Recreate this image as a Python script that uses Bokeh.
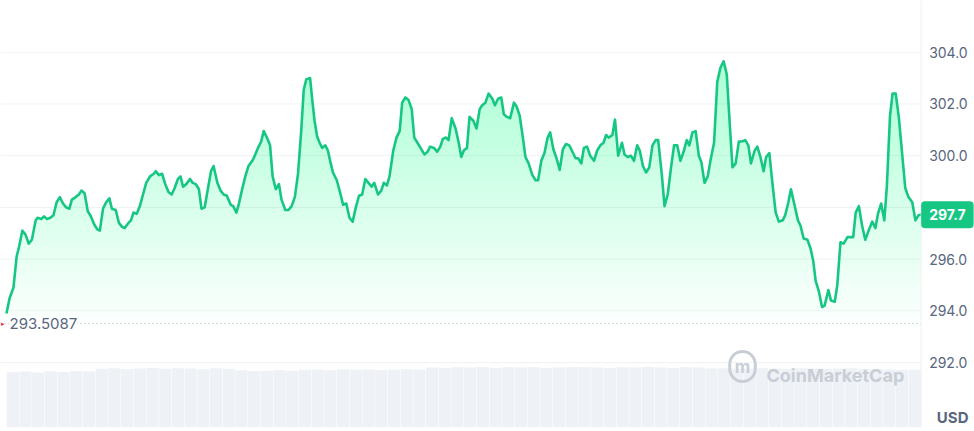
from bokeh.plotting import figure
from bokeh.models import Range1d, Span, Label
from bokeh.embed import file_html
from bokeh.resources import INLINE
from bokeh.core.properties import value
import numpy as np

# ---- data (minutes since start of the 24h window, USD price) ----
minutes = [
    0, 5, 11, 16, 20, 25, 30, 35, 40, 46, 49, 55, 59, 64, 69, 74, 79, 84, 89, 94,
    99, 103, 109, 114, 118, 123, 128, 133, 138, 143, 147, 152, 157, 162, 166, 172, 177, 182, 186, 192,
    196, 200, 205, 210, 215, 220, 226, 232,
    235, 240, 245, 250, 255, 260, 264, 270, 274, 278, 283, 289, 293, 298, 303, 307, 312, 317, 322, 326,
    332, 337, 342, 347, 353, 357, 362, 366, 371, 376, 381, 387, 390, 396, 401, 405, 410, 415, 419, 424,
    429, 433, 439, 444, 449, 454, 459, 464, 468,
    472, 478, 481, 485, 489, 493, 497, 502, 506, 510, 514, 520, 525, 530, 535, 540, 545, 550, 555, 560,
    565, 570, 575, 579, 585, 590, 594, 599, 603, 609, 614, 619, 623, 628, 633, 638, 642, 647, 653, 658,
    663, 667, 673, 678, 683, 687, 692, 696, 701,
    707, 712, 716, 720, 725, 729, 735, 740, 745, 749, 754, 759, 765, 769, 774, 779, 783, 788, 793, 799,
    803, 808, 813, 817, 822, 828, 833, 837, 842, 847, 852, 856, 861, 866, 871, 876, 881, 886, 891, 896,
    900, 905, 909, 914, 919, 925, 930, 935, 940,
    944, 948, 954, 958, 963, 969, 973, 978, 983, 988, 993, 997, 1002, 1007, 1012, 1017, 1022, 1026, 1032, 1036,
    1041, 1046, 1051, 1056, 1061, 1066, 1071, 1075, 1080, 1085, 1090, 1094, 1099, 1104, 1109, 1114, 1119, 1124, 1129, 1134,
    1139, 1143, 1148, 1153, 1158, 1163, 1168, 1172, 1178,
    1182, 1187, 1192, 1196, 1201, 1206, 1211, 1216, 1222, 1226, 1231, 1235, 1241, 1246, 1250, 1255, 1261, 1266, 1270, 1274,
    1279, 1284, 1288, 1294, 1298, 1304, 1308, 1313, 1318, 1324, 1329, 1333, 1337, 1342, 1347, 1352, 1358, 1363, 1368, 1372,
    1377, 1382, 1386, 1391, 1395, 1400, 1405, 1410, 1415, 1420, 1426, 1431, 1436, 1440,
]

prices = [
    293.9, 294.5, 294.9, 296.1, 296.5, 297.1, 296.95, 296.6, 296.75, 297.5,
    297.6, 297.55, 297.65, 297.55, 297.6, 297.7, 298.2, 298.4, 298.15, 298.0,
    297.95, 298.3, 298.4, 298.5, 298.65, 298.55, 297.85, 297.65, 297.35, 297.15,
    297.1, 297.95, 298.2, 298.35, 297.95, 297.9, 297.4, 297.25, 297.2, 297.4,
    297.5, 297.8, 297.75, 298.05, 298.5, 298.95, 299.2, 299.3,
    299.4, 299.25, 299.3, 298.9, 298.6, 298.5, 298.7, 299.1, 299.2, 298.8,
    298.9, 299.1, 298.95, 298.9, 298.7, 297.95, 298.0, 298.7, 299.4, 299.6,
    298.95, 298.65, 298.5, 298.45, 298.1, 298.05, 297.8, 298.15, 298.7, 299.2,
    299.6, 299.8, 299.95, 300.3, 300.55, 300.95, 300.7, 300.4, 299.2, 298.7,
    298.9, 298.3, 297.9, 297.9, 298.05, 298.4, 299.3, 300.95, 302.55,
    302.95, 303.0, 302.25, 301.35, 300.75, 300.5, 300.3, 300.4, 300.2, 299.75,
    299.35, 299.05, 298.6, 298.1, 298.15, 297.6, 297.45, 298.0, 298.45, 298.5,
    299.1, 298.95, 298.8, 298.95, 298.5, 298.65, 298.95, 298.85, 299.2, 300.2,
    300.7, 300.95, 302.05, 302.25, 302.15, 301.8, 300.7, 300.5, 300.25, 300.05,
    300.15, 300.35, 300.3, 300.15, 300.35, 300.65, 300.7, 300.6, 301.45,
    301.05, 300.5, 299.95, 300.2, 300.3, 301.5, 301.35, 301.05, 301.8, 301.95,
    302.05, 302.4, 302.2, 301.95, 302.2, 302.25, 301.6, 301.5, 301.45, 302.05,
    301.9, 301.55, 300.7, 299.95, 299.7, 299.25, 299.05, 299.05, 299.8, 300.1,
    300.7, 300.9, 300.25, 299.9, 299.45, 300.25, 300.45, 300.4, 300.15, 299.9,
    299.9, 299.7, 300.3, 300.35, 300.0, 299.8, 300.2, 300.4, 300.5,
    300.8, 300.7, 300.8, 301.4, 300.0, 300.5, 300.05, 299.95, 300.0, 299.8,
    300.4, 300.2, 299.6, 299.35, 299.55, 300.4, 300.6, 300.6, 299.2, 298.05,
    298.5, 299.5, 300.4, 300.4, 299.8, 300.15, 300.6, 300.4, 300.9, 300.95,
    300.0, 299.75, 298.95, 299.2, 299.9, 300.5, 302.85, 303.4, 303.65, 303.15,
    301.1, 299.55, 299.7, 300.55, 300.55, 300.6, 300.4, 299.7, 300.2,
    300.35, 299.95, 299.4, 299.95, 300.1, 298.9, 297.8, 297.45, 297.5, 297.7,
    298.2, 298.7, 298.05, 297.5, 297.3, 296.8, 296.75, 296.4, 295.95, 295.15,
    294.75, 294.15, 294.2, 294.8, 294.4, 294.35, 295.0, 296.65, 296.6, 296.85,
    296.85, 296.85, 297.8, 298.05, 297.3, 296.75, 297.15, 297.45, 297.2, 297.75,
    298.15, 297.5, 298.8, 301.55, 302.4, 302.4, 301.45, 300.1, 298.75, 298.4,
    298.2, 297.5, 297.7, 297.72,
]

open_price = 293.5087
y_ticks = [292, 294, 296, 298, 300, 302, 304]
tick_labels = [f"{t:.1f}" for t in y_ticks]

# volume per 20-minute slot (arbitrary units)
volumes = [
    1.80, 1.82, 1.79, 1.83, 1.81, 1.84, 1.82,
    1.91, 1.93, 1.90, 1.92, 1.94, 1.91, 1.93, 1.92, 1.90, 1.93, 1.91,
    1.86, 1.84, 1.85, 1.87, 1.85,
    1.88, 1.89, 1.87, 1.90, 1.88, 1.89, 1.87, 1.88, 1.90, 1.89,
    1.95, 1.94, 1.96, 1.95, 1.97, 1.94, 1.96, 1.95, 1.96, 1.94,
    1.95, 1.97, 1.96, 1.95, 1.94, 1.96, 1.95, 1.97, 1.95, 1.94, 1.96, 1.95,
    1.92, 1.93, 1.91, 1.92, 1.93, 1.92, 1.91, 1.93, 1.92, 1.91,
    1.92, 1.93, 1.91, 1.90, 1.89, 1.88, 1.88,
]
vol_slot = 20
vol_minutes = [vol_slot / 2 + vol_slot * i for i in range(len(volumes))]

assert len(minutes) == len(prices)

GREEN = "#16c784"
GRID = "#eff2f5"
TEXT = "#58667e"
FONT = "Inter"

X0, X1 = -9.4, 1524.0
Y0, Y1 = 289.49, 306.0
t_end = minutes[-1]

p = figure(width=974, height=431, output_backend="svg", toolbar_location=None,
           x_range=Range1d(X0, X1), y_range=Range1d(Y0, Y1),
           min_border_left=0, min_border_top=0, min_border_bottom=4, min_border_right=0)
p.outline_line_color = None
p.background_fill_color = "white"
p.border_fill_color = "white"
p.axis.visible = False
p.grid.visible = False

# horizontal grid lines (stop at the price-scale divider)
n = len(y_ticks)
p.segment(x0=[X0] * n, y0=y_ticks, x1=[t_end] * n, y1=y_ticks,
          line_color=GRID, line_width=1)
# price scale divider
p.add_layout(Span(location=t_end, dimension="height", line_color=GRID, line_width=1))
# price-scale labels
p.text(x=[t_end] * n, y=y_ticks, text=tick_labels, x_offset=8,
       text_baseline="middle", text_align="left", text_color=TEXT,
       text_font=value(FONT), text_font_size="14px")

# volume band
p.extra_y_ranges = {"vol": Range1d(0, 13.9)}
p.vbar(x=vol_minutes, top=volumes, width=vol_slot * 0.96, bottom=0,
       y_range_name="vol", fill_color="#eef1f5", line_color=None)

# vertical gradient under the price line: overlapping translucent layers
pr = np.array(prices)
levels = np.arange(293.3, pr.max(), 0.25)
for lo in levels:
    p.varea(x=minutes, y1=np.full(len(pr), lo), y2=np.maximum(pr, lo),
            fill_color=GREEN, fill_alpha=0.0075)

# open-price dotted reference line
p.segment(x0=[X0], y0=[open_price], x1=[t_end], y1=[open_price],
          line_color="#a6b0c3", line_dash="1 3", line_width=1)
p.add_layout(Label(x=X0, y=open_price, x_offset=9, text=f"{open_price:.4f}",
                   text_baseline="middle", text_align="left", text_color=TEXT,
                   text_font=FONT, text_font_size="15px",
                   background_fill_color="white", background_fill_alpha=1.0))
p.add_layout(Label(x=X0, y=open_price, x_offset=0, text="\u25b8",
                   text_baseline="middle", text_align="left", text_color="#ea3943",
                   text_font_size="7px"))

# price line
p.line(minutes, prices, line_color=GREEN, line_width=2.6, line_join="round")

# current price tag
last = prices[-1]
p.add_layout(Label(x=t_end, y=last, x_offset=0, text=f"{last:.1f}",
                   text_baseline="middle", text_align="left", text_color="white",
                   text_font=FONT, text_font_size="14px", text_font_style="bold",
                   background_fill_color=GREEN, border_radius=4, padding=8))

# currency label
p.add_layout(Label(x=X1, y=Y0, x_offset=-6, y_offset=1, text="USD",
                   text_baseline="bottom", text_align="right", text_color=TEXT,
                   text_font=FONT, text_font_size="15px", text_font_style="bold"))

# watermark
WM = "#c9ced6"
p.add_layout(Label(x=742, y=61, x_units="screen", y_units="screen", text="m",
                   text_align="center", text_baseline="middle", text_color=WM,
                   text_font=FONT, text_font_size="17px", text_font_style="bold",
                   border_line_color=WM, border_line_width=3, border_radius=15, padding=5))
p.add_layout(Label(x=766, y=52, x_units="screen", y_units="screen", text="CoinMarketCap",
                   text_align="left", text_baseline="alphabetic", text_color=WM,
                   text_font=FONT, text_font_size="18px", text_font_style="bold"))

open("out.html", "w").write(file_html(p, INLINE))
